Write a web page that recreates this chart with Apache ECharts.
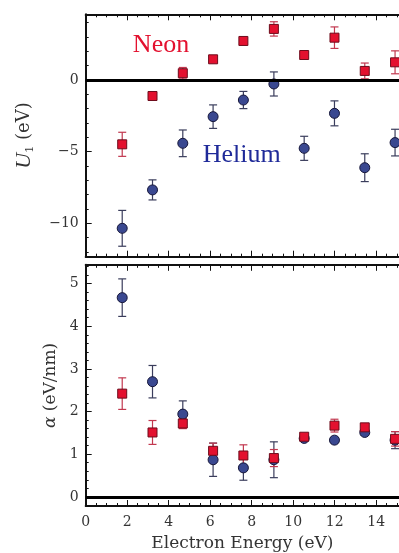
<!DOCTYPE html>
<html>
<head>
<meta charset="utf-8">
<script src="https://cdn.jsdelivr.net/npm/echarts@6/dist/echarts.min.js"></script>
<style>
  html, body { margin: 0; padding: 0; background: #fff; }
  #chart { width: 399px; height: 553px; }
</style>
</head>
<body>
<div id="chart"></div>
<script>
// Electron energies (eV) of the measurements
const energy = [1.76, 3.22, 4.68, 6.14, 7.60, 9.07, 10.53, 11.99, 13.45, 14.91];

// Upper panel: U1 (eV)
const heliumU1    = [-10.35, -7.67, -4.42, -2.56, -1.40, -0.28, -4.77, -2.33, -6.12, -4.37];
const heliumU1Err = [1.25, 0.70, 0.93, 0.82, 0.60, 0.84, 0.84, 0.87, 0.97, 0.93];
const neonU1      = [-4.49, -1.12, 0.47, 1.44, 2.72, 3.56, 1.74, 2.95, 0.63, 1.23];
const neonU1Err   = [0.84, 0.20, 0.40, 0.20, 0.20, 0.50, 0.20, 0.75, 0.55, 0.80];

// Lower panel: alpha (eV/nm)
const heliumAlpha    = [4.67, 2.70, 1.94, 0.87, 0.68, 0.87, 1.37, 1.33, 1.51, 1.33];
const heliumAlphaErr = [0.44, 0.38, 0.31, 0.39, 0.29, 0.42, 0.06, 0.06, 0.06, 0.20];
const neonAlpha      = [2.42, 1.51, 1.72, 1.08, 0.97, 0.91, 1.41, 1.67, 1.63, 1.36];
const neonAlphaErr   = [0.37, 0.28, 0.12, 0.18, 0.25, 0.20, 0.06, 0.15, 0.06, 0.17];

// Axis ticks
const u1Ticks = [-10, -5, 0];
const u1MinorStep = 1;
const alphaTicks = [0, 1, 2, 3, 4, 5];
const alphaMinorStep = 0.2;
const energyTickStep = 2;

const FONT = '"DejaVu Serif", "Liberation Serif", serif';
const TEXT_COLOR = '#333';
const NEON = '#e3112f';
const HELIUM = '#3a4890';

function minorValues(min, max, step, majors) {
  const out = [];
  const start = Math.ceil(min / step);
  const end = Math.floor(max / step);
  for (let k = start; k <= end; k++) {
    const v = +(k * step).toFixed(6);
    if (!majors.some(m => Math.abs(m - v) < 1e-6)) out.push(v);
  }
  return out;
}
const fmtMinus = v => String(v).replace('-', '\u2212');

const E_MIN = 0, E_MAX = 15.1;
const U1_MIN = -12.33, U1_MAX = 4.58;
const AL_MIN = -0.214, AL_MAX = 5.44;

const tickLine = { color: '#111', width: 1 };
const frameLine = { show: true, onZero: false, lineStyle: { color: '#111', width: 2 } };

function xAxes(gridIndex, withLabels) {
  const base = {
    gridIndex, type: 'value', min: E_MIN, max: E_MAX, interval: energyTickStep,
    axisLine: frameLine,
    axisTick: { inside: true, length: 6, lineStyle: tickLine },
    minorTick: { show: true, splitNumber: 4, length: 3, lineStyle: tickLine },
    splitLine: { show: false },
    axisLabel: { show: false }
  };
  const bottom = Object.assign({}, base, { position: 'bottom' });
  if (withLabels) {
    bottom.axisLabel = { show: true, fontFamily: FONT, fontSize: 14, color: TEXT_COLOR, margin: 9,
                         showMaxLabel: false };
    bottom.name = 'Electron Energy (eV)';
    bottom.nameLocation = 'middle';
    bottom.nameGap = 29;
    bottom.nameTextStyle = { fontFamily: FONT, fontSize: 17, color: TEXT_COLOR };
  }
  const top = Object.assign({}, base, { position: 'top' });
  return [bottom, top];
}

function yAxes(gridIndex, min, max, majors, minorStep, name, nameGap, nameStyle) {
  return [
    {
      gridIndex, type: 'value', min, max, position: 'left',
      axisLine: frameLine,
      axisTick: { inside: true, length: 6, lineStyle: tickLine, customValues: majors },
      axisLabel: { fontFamily: FONT, fontSize: 14, color: TEXT_COLOR, margin: 7,
                   customValues: majors, formatter: fmtMinus },
      splitLine: { show: false },
      name, nameLocation: 'middle', nameGap, nameTextStyle: nameStyle
    },
    {
      gridIndex, type: 'value', min, max, position: 'left',
      axisLine: { show: false },
      axisTick: { inside: true, length: 3, lineStyle: tickLine,
                  customValues: minorValues(min, max, minorStep, majors) },
      axisLabel: { show: false },
      splitLine: { show: false }
    }
  ];
}

function errorBars(xi, yi, values, errs, color, withZeroLine) {
  const s = {
    type: 'custom',
    xAxisIndex: xi, yAxisIndex: yi,
    z: 2,
    silent: true,
    data: energy.map((e, i) => [e, values[i] - errs[i], values[i] + errs[i]]),
    renderItem(params, api) {
      const x = api.value(0);
      const lo = api.coord([x, api.value(1)]);
      const hi = api.coord([x, api.value(2)]);
      const cap = 4;
      const style = { stroke: color, lineWidth: 1.2 };
      return {
        type: 'group',
        children: [
          { type: 'line', shape: { x1: lo[0], y1: lo[1], x2: hi[0], y2: hi[1] }, style },
          { type: 'line', shape: { x1: lo[0] - cap, y1: lo[1], x2: lo[0] + cap, y2: lo[1] }, style },
          { type: 'line', shape: { x1: hi[0] - cap, y1: hi[1], x2: hi[0] + cap, y2: hi[1] }, style }
        ]
      };
    }
  };
  if (withZeroLine) {
    s.markLine = {
      silent: true, symbol: 'none', label: { show: false },
      lineStyle: { color: '#000', width: 3, type: 'solid' },
      data: [{ yAxis: 0 }]
    };
  }
  return s;
}

function points(xi, yi, values, kind) {
  const neon = kind === 'neon';
  return {
    type: 'scatter',
    xAxisIndex: xi, yAxisIndex: yi,
    z: 4,
    symbol: neon ? 'rect' : 'circle',
    symbolSize: neon ? 9 : 10,
    itemStyle: neon
      ? { color: NEON, borderColor: '#6e0c1c', borderWidth: 1, opacity: 1 }
      : { color: HELIUM, borderColor: '#17173a', borderWidth: 1, opacity: 1 },
    data: energy.map((e, i) => [e, values[i]])
  };
}

const chart = echarts.init(document.getElementById('chart'), null, { renderer: 'canvas' });

const option = {
  backgroundColor: '#fff',
  animation: false,
  grid: [
    { left: 85.7, top: 14.3, right: 0, height: 242.4 },
    { left: 85.7, top: 264.8, right: 0, height: 242.7 }
  ],
  xAxis: [...xAxes(0, false), ...xAxes(1, true)],
  yAxis: [
    ...yAxes(0, U1_MIN, U1_MAX, u1Ticks, u1MinorStep,
      '{u|U}{s|1} (eV)', 50,
      { fontFamily: FONT, fontSize: 18, color: TEXT_COLOR,
        rich: { u: { fontFamily: '"Liberation Serif", serif', fontStyle: 'italic', fontSize: 22, color: TEXT_COLOR },
                s: { fontFamily: FONT, fontSize: 11, color: TEXT_COLOR, verticalAlign: 'bottom', padding: [8, 0, 0, 0] } } }),
    ...yAxes(1, AL_MIN, AL_MAX, alphaTicks, alphaMinorStep,
      '{a|\u03b1} (eV/nm)', 27,
      { fontFamily: FONT, fontSize: 17, color: TEXT_COLOR,
        rich: { a: { fontFamily: FONT, fontStyle: 'italic', fontSize: 17, color: TEXT_COLOR } } })
  ],
  series: [
    errorBars(0, 0, heliumU1, heliumU1Err, '#3a3d5c', true),
    errorBars(0, 0, neonU1, neonU1Err, '#c2384f', false),
    points(0, 0, heliumU1, 'helium'),
    points(0, 0, neonU1, 'neon'),
    errorBars(2, 2, heliumAlpha, heliumAlphaErr, '#3a3d5c', true),
    errorBars(2, 2, neonAlpha, neonAlphaErr, '#c2384f', false),
    points(2, 2, heliumAlpha, 'helium'),
    points(2, 2, neonAlpha, 'neon')
  ]
};
chart.setOption(option);

// Species labels placed in data coordinates of the upper panel
const speciesLabels = [
  { text: 'Neon',   at: [3.63, 2.44],  color: NEON },
  { text: 'Helium', at: [7.52, -5.23], color: '#1f2a99' }
];
chart.setOption({
  graphic: speciesLabels.map(l => {
    const p = chart.convertToPixel({ gridIndex: 0 }, l.at);
    return {
      type: 'text', x: p[0], y: p[1], z: 10,
      style: { text: l.text, fill: l.color, font: '26px "Liberation Serif", serif',
               textAlign: 'center', textVerticalAlign: 'middle' }
    };
  })
});
</script>
</body>
</html>
